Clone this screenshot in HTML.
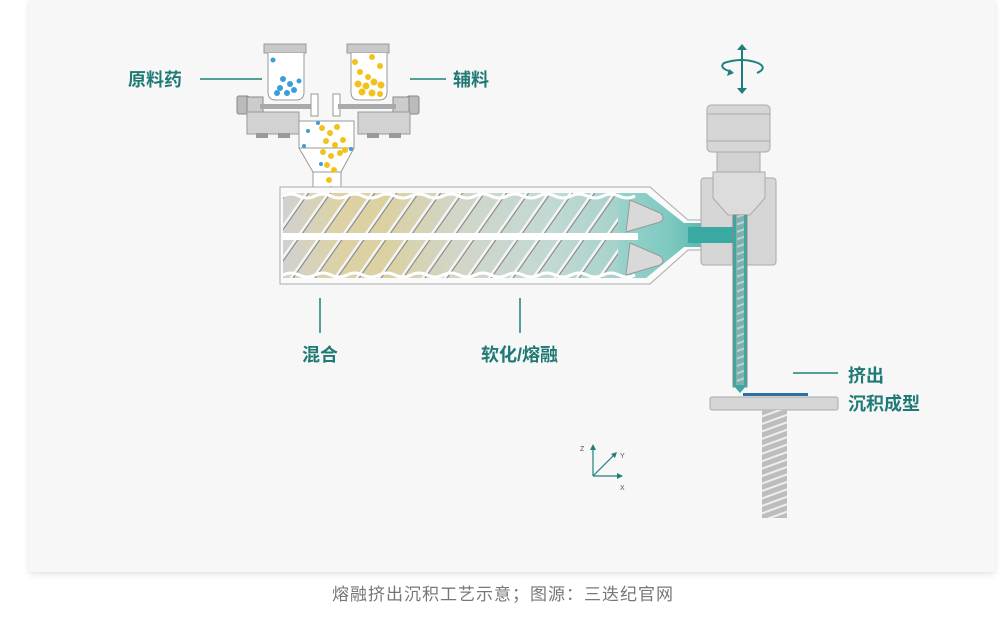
<!DOCTYPE html>
<html><head><meta charset="utf-8"><style>
html,body{margin:0;padding:0;background:#fff;width:1006px;height:618px;overflow:hidden}
.cap{position:absolute;left:0;top:580px;width:1006px;text-align:center;font:17px "Liberation Sans","Noto Sans CJK SC",sans-serif;color:#777;letter-spacing:1px}
</style></head><body>
<div style="position:absolute;left:29px;top:0;width:966px;height:572px;background:#f7f7f7;box-shadow:0 2px 6px rgba(0,0,0,0.12)"></div>
<svg width="1006" height="618" style="position:absolute;left:0;top:0" font-family="'Liberation Sans','Noto Sans CJK SC',sans-serif">
<defs>
<linearGradient id="mat" x1="0" x2="1">
<stop offset="0" stop-color="#d2d2d2"/><stop offset="0.12" stop-color="#e0d398"/><stop offset="0.22" stop-color="#dfd190"/><stop offset="0.38" stop-color="#d3d8c4"/><stop offset="0.6" stop-color="#bcdcd6"/><stop offset="0.85" stop-color="#7fcac1"/><stop offset="1" stop-color="#3aa9a2"/>
</linearGradient>
<pattern id="thr" width="22" height="90" patternUnits="userSpaceOnUse" patternTransform="skewX(-35)">
<rect width="22" height="90" fill="#cfcfcf" opacity="0.25"/><rect x="0" width="3" height="90" fill="#f4f4f4"/><rect x="3" width="1.5" height="90" fill="#8f8f8f"/>
</pattern>
<pattern id="thr2" width="7" height="7" patternUnits="userSpaceOnUse" patternTransform="rotate(-20)">
<rect width="7" height="2" fill="#eee"/>
</pattern>
</defs>
<rect x="264" y="44" width="42" height="9" fill="#c9c9c9" stroke="#999"/>
<path d="M268 53 V92 Q268 100 276 100 H296 Q304 100 304 92 V53" fill="#fff" stroke="#999"/>
<rect x="347" y="44" width="42" height="9" fill="#c9c9c9" stroke="#999"/>
<path d="M351 53 V92 Q351 100 359 100 H379 Q387 100 387 92 V53" fill="#fff" stroke="#999"/>
<g fill="#3a9fd9"><circle cx="273" cy="60" r="2.5"/><circle cx="283" cy="79" r="3"/><circle cx="290" cy="84" r="3"/><circle cx="280" cy="88" r="3"/><circle cx="294" cy="90" r="3"/><circle cx="287" cy="93" r="3"/><circle cx="299" cy="81" r="2.5"/><circle cx="277" cy="93" r="3"/></g>
<g fill="#f2c21b"><circle cx="355" cy="62" r="3"/><circle cx="372" cy="57" r="3"/><circle cx="380" cy="66" r="3"/><circle cx="360" cy="72" r="3"/><circle cx="358" cy="84" r="3.5"/><circle cx="366" cy="86" r="3.5"/><circle cx="374" cy="82" r="3.5"/><circle cx="381" cy="85" r="3.5"/><circle cx="362" cy="92" r="3.5"/><circle cx="372" cy="93" r="3.5"/><circle cx="380" cy="94" r="3"/><circle cx="368" cy="77" r="3"/></g>
<rect x="237" y="96" width="12" height="18" rx="2" fill="#bbb" stroke="#888"/>
<rect x="247" y="97" width="16" height="16" fill="#ccc" stroke="#888"/>
<rect x="247" y="112" width="52" height="22" fill="#d2d2d2" stroke="#999"/>
<rect x="256" y="133" width="12" height="5" fill="#999"/><rect x="278" y="133" width="12" height="5" fill="#999"/>
<rect x="260" y="104" width="58" height="5" fill="#aaa"/>
<rect x="311" y="94" width="7" height="22" fill="#fff" stroke="#999"/>
<rect x="333" y="94" width="7" height="22" fill="#fff" stroke="#999"/>
<rect x="407" y="96" width="12" height="18" rx="2" fill="#bbb" stroke="#888"/>
<rect x="393" y="97" width="16" height="16" fill="#ccc" stroke="#888"/>
<rect x="358" y="112" width="52" height="22" fill="#d2d2d2" stroke="#999"/>
<rect x="367" y="133" width="12" height="5" fill="#999"/><rect x="389" y="133" width="12" height="5" fill="#999"/>
<rect x="338" y="104" width="58" height="5" fill="#aaa"/>
<path d="M299 121 H354 V148 L341 172 V192 H313 V172 L299 148 Z" fill="#fff" stroke="#999"/>
<line x1="299" y1="148" x2="354" y2="148" stroke="#999"/>
<line x1="313" y1="172" x2="341" y2="172" stroke="#999"/>
<g fill="#f2c21b"><circle cx="322" cy="128" r="3"/><circle cx="330" cy="133" r="3"/><circle cx="337" cy="127" r="3"/><circle cx="326" cy="141" r="3"/><circle cx="335" cy="145" r="3"/><circle cx="343" cy="140" r="3"/><circle cx="323" cy="152" r="3"/><circle cx="331" cy="156" r="3"/><circle cx="340" cy="153" r="3"/><circle cx="327" cy="165" r="3"/><circle cx="334" cy="170" r="3"/><circle cx="329" cy="180" r="3"/><circle cx="331" cy="189" r="3"/><circle cx="345" cy="150" r="3"/></g>
<g fill="#3a9fd9"><circle cx="308" cy="131" r="2"/><circle cx="304" cy="146" r="2"/><circle cx="321" cy="164" r="2"/><circle cx="351" cy="149" r="2"/><circle cx="318" cy="123" r="2"/></g>
<path d="M280 187 H650 L688 220 H735 V250 H688 L650 284 H280 Z" fill="#fafafa" stroke="#aaa"/>
<path d="M283 193 H646 L684 223 H735 V247 H684 L646 278 H283 Z" fill="url(#mat)"/>
<rect x="283" y="193" width="335" height="85" fill="url(#thr)"/>
<rect x="283" y="233" width="355" height="7" fill="#fff"/>
<path d="M283 196 q8 -4 16 0 t16 0 t16 0 t16 0 t16 0 t16 0 t16 0 t16 0 t16 0 t16 0 t16 0 t16 0 t16 0 t16 0 t16 0 t16 0 t16 0 t16 0 t16 0 t16 0 t16 0 t16 0" fill="none" stroke="#fff" stroke-width="3"/>
<path d="M283 275 q8 -4 16 0 t16 0 t16 0 t16 0 t16 0 t16 0 t16 0 t16 0 t16 0 t16 0 t16 0 t16 0 t16 0 t16 0 t16 0 t16 0 t16 0 t16 0 t16 0 t16 0 t16 0 t16 0" fill="none" stroke="#fff" stroke-width="3"/>
<path d="M630 200 L660 213 Q666 218 660 222 L626 232 Z" fill="#d9d9d9" stroke="#999"/>
<path d="M630 243 L660 256 Q666 261 660 265 L626 275 Z" fill="#d9d9d9" stroke="#999"/>
<rect x="707" y="105" width="63" height="47" rx="4" fill="#d6d6d6" stroke="#aaa"/>
<line x1="707" y1="114" x2="770" y2="114" stroke="#aaa"/><line x1="707" y1="141" x2="770" y2="141" stroke="#aaa"/>
<rect x="717" y="152" width="43" height="20" fill="#d2d2d2" stroke="#aaa"/>
<rect x="701" y="178" width="75" height="87" rx="3" fill="#d6d6d6" stroke="#aaa"/>
<path d="M713 172 H765 V198 L750 215 H728 L713 198 Z" fill="#dcdcdc" stroke="#aaa"/>
<rect x="731" y="215" width="16" height="50" fill="#cfcfcf"/>
<rect x="688" y="227" width="50" height="16" fill="#3aa9a2"/>
<rect x="733" y="215" width="14" height="172" fill="#3aa9a2" stroke="#888"/>
<rect x="737" y="215" width="7" height="172" fill="url(#thr2)" opacity="0.8"/>
<rect x="736" y="215" width="8" height="172" fill="#bbb" opacity="0.5"/>
<path d="M733 385 L740 393 L747 385 Z" fill="#3aa9a2"/>
<rect x="743" y="393" width="65" height="3" fill="#2b6fa8"/>
<rect x="710" y="397" width="128" height="13" rx="2" fill="#d6d6d6" stroke="#aaa"/>
<rect x="762" y="410" width="25" height="108" fill="#bdbdbd"/>
<rect x="762" y="410" width="25" height="108" fill="url(#thr2)"/>
<g stroke="#1f807b" stroke-width="2" fill="none">
<line x1="742" y1="48" x2="742" y2="90"/>
<path d="M732 72 Q718 68 724 63 Q742 57 758 63 Q768 68 757 73"/>
</g>
<path d="M737 50 L742 44 L747 50Z M737 88 L742 94 L747 88Z M727 76 L734 73 L729 69Z" fill="#1f807b"/>
<g stroke="#1f807b" stroke-width="1.2" fill="none"><line x1="593" y1="476" x2="593" y2="448"/><line x1="593" y1="476" x2="619" y2="476"/><line x1="593" y1="476" x2="614" y2="455"/></g>
<path d="M590 450 L593 444 L596 450Z M617 473 L623 476 L617 479Z M611 454 L617 452 L615 458Z" fill="#1f807b"/>
<g font-size="7" fill="#555"><text x="580" y="451">Z</text><text x="620" y="458">Y</text><text x="620" y="490">X</text></g>
<g stroke="#1f807b" stroke-width="1.5">
<line x1="200" y1="79" x2="262" y2="79"/><line x1="410" y1="79" x2="446" y2="79"/>
<line x1="320" y1="298" x2="320" y2="333"/><line x1="520" y1="298" x2="520" y2="333"/>
<line x1="793" y1="373" x2="838" y2="373"/>
</g>
<g font-size="18" font-weight="bold" fill="#1f7a75">
<text x="128" y="86">原料药</text><text x="453" y="86">辅料</text>
<text x="302" y="361">混合</text><text x="481" y="361">软化/熔融</text>
<text x="848" y="382">挤出</text><text x="848" y="410">沉积成型</text>
</g>
</svg>
<div class="cap">熔融挤出沉积工艺示意；图源：三迭纪官网</div>
</body></html>
